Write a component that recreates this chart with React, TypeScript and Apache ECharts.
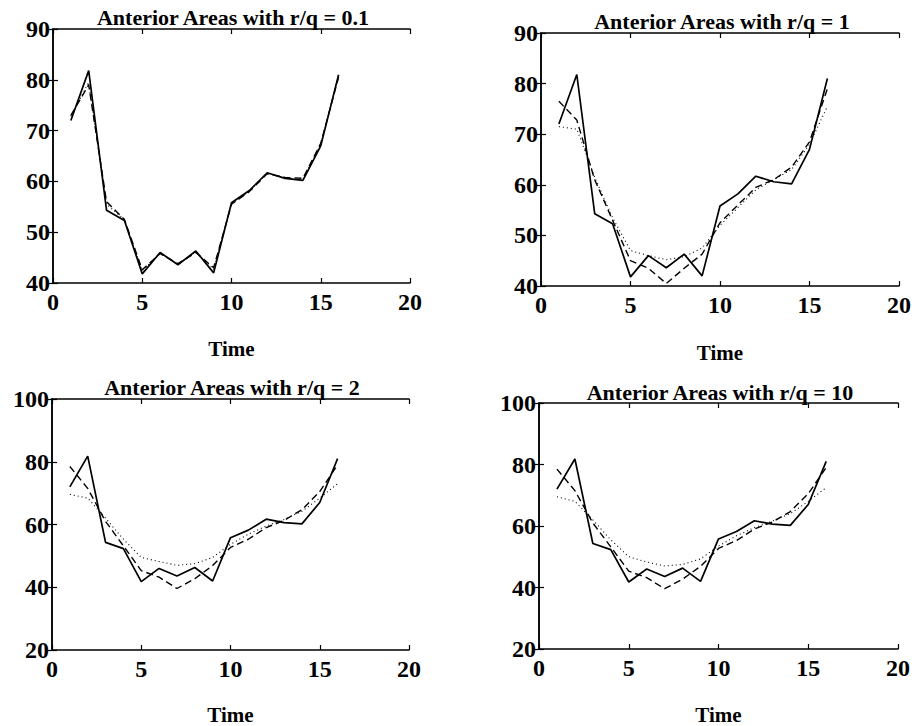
import React, { useEffect, useRef } from "react";
import * as echarts from "echarts";

const time = [1, 2, 3, 4, 5, 6, 7, 8, 9, 10, 11, 12, 13, 14, 15, 16];
const observed = [72, 81.8, 54.3, 52.3, 41.8, 46, 43.6, 46.3, 42, 55.8, 58.2, 61.7, 60.6, 60.2, 67, 81];

const titles = ["Anterior Areas with r/q = 0.1", "Anterior Areas with r/q = 1", "Anterior Areas with r/q = 2", "Anterior Areas with r/q = 10"];

const dashed01 = [73, 79, 56, 52.5, 42.6, 45.8, 43.8, 46, 43, 55.5, 58, 61.5, 60.8, 60.6, 67.5, 80.5];
const dotted01 = [72.8, 79.5, 55.5, 52.5, 42.4, 45.9, 43.7, 46.1, 42.7, 55.6, 58.1, 61.6, 60.7, 60.4, 67.3, 80.8];

const dashed1 = [76.5, 72.8, 61, 53, 45, 43.5, 40.5, 43.5, 46.3, 52.5, 56, 59.5, 61, 63.5, 68.5, 79];
const dotted1 = [71.5, 71, 61.5, 53.5, 47, 46, 45.2, 45.8, 47.5, 52, 55.5, 59, 61, 63, 68, 75.5];

const dashed2 = [78.5, 71.5, 61, 53.2, 45.3, 43.2, 39.6, 42.7, 46.9, 52.7, 55.3, 59, 61.3, 64.7, 70.5, 79];
const dotted2 = [69.6, 68.4, 62, 55.3, 49.5, 48.2, 47, 47.5, 49.5, 53.7, 56.9, 59.5, 61.6, 64.2, 68.4, 73];

const dashed10 = [78.5, 71.5, 61, 53.2, 45.3, 43.2, 39.6, 42.7, 46.9, 52.7, 55.3, 59, 61.3, 64.7, 70.5, 79];
const dotted10 = [69.5, 68, 62, 55.5, 50, 48.3, 47, 47.5, 49.3, 53.5, 56.8, 59.5, 61.6, 64, 68, 72.5];

const xTicks = { min: 0, max: 20, interval: 5 };
const yRangesTop = { min: 40, max: 90, interval: 10 };
const yRangesBottom = { min: 20, max: 100, interval: 20 };

const panelSeries = [
  [dashed01, dotted01],
  [dashed1, dotted1],
  [dashed2, dotted2],
  [dashed10, dotted10],
];

const grids = [
  { left: 53, top: 29, width: 357, height: 254 },
  { left: 541, top: 33, width: 359, height: 253 },
  { left: 52, top: 399, width: 357, height: 255 },
  { left: 539, top: 403, width: 359, height: 254 },
];
const titlePos = [
  { x: 233, top: 6 },
  { x: 722, top: 10 },
  { x: 232, top: 376 },
  { x: 720, top: 381 },
];
const nameGaps = [55, 56, 54, 55];

const FONT = "'Liberation Serif', 'Times New Roman', serif";

export default function App() {
  const ref = useRef<HTMLDivElement>(null);
  useEffect(() => {
    if (!ref.current) return;
    const chart = echarts.init(ref.current, undefined, { renderer: "svg" });
    const axisLine = { show: true, lineStyle: { color: "#000", width: 1.5 } };
    const axisTick = { show: true, inside: true, length: 5, lineStyle: { color: "#000", width: 1.2 } };
    const xAxes: any[] = [];
    const yAxes: any[] = [];
    grids.forEach((g, i) => {
      xAxes.push({
        type: "value",
        gridIndex: i,
        position: "bottom",
        ...xTicks,
        axisLine,
        axisTick,
        splitLine: { show: false },
        axisLabel: { color: "#000", fontFamily: FONT, fontSize: 24, fontWeight: "bold", margin: 7 },
        name: "Time",
        nameLocation: "middle",
        nameGap: nameGaps[i],
        nameTextStyle: { color: "#000", fontFamily: FONT, fontSize: 21, fontWeight: "bold" },
      });
    });
    grids.forEach((g, i) => {
      const yr = i < 2 ? yRangesTop : yRangesBottom;
      yAxes.push({
        type: "value",
        gridIndex: i,
        position: "left",
        ...yr,
        axisLine,
        axisTick,
        splitLine: { show: false },
        axisLabel: { color: "#000", fontFamily: FONT, fontSize: 24, fontWeight: "bold", margin: 3 },
      });
    });
    grids.forEach((g, i) => {
      xAxes.push({
        type: "value",
        gridIndex: i,
        position: "top",
        ...xTicks,
        axisLine,
        axisTick,
        splitLine: { show: false },
        axisLabel: { show: false },
      });
    });
    grids.forEach((g, i) => {
      const yr = i < 2 ? yRangesTop : yRangesBottom;
      yAxes.push({
        type: "value",
        gridIndex: i,
        position: "right",
        ...yr,
        axisLine,
        axisTick,
        splitLine: { show: false },
        axisLabel: { show: false },
      });
    });
    const series: any[] = [];
    grids.forEach((g, i) => {
      const [dsh, dot] = panelSeries[i];
      series.push({
        type: "line",
        xAxisIndex: i,
        yAxisIndex: i,
        symbol: "none",
        data: time.map((t, k) => [t, dot[k]]),
        lineStyle: { color: "#000", width: 1.1, type: [1, 3] },
      });
      series.push({
        type: "line",
        xAxisIndex: i,
        yAxisIndex: i,
        symbol: "none",
        data: time.map((t, k) => [t, dsh[k]]),
        lineStyle: { color: "#000", width: 1.4, type: [7, 4] },
      });
      series.push({
        type: "line",
        xAxisIndex: i,
        yAxisIndex: i,
        symbol: "none",
        data: time.map((t, k) => [t, observed[k]]),
        lineStyle: { color: "#000", width: 1.7, type: "solid" },
      });
    });
    chart.setOption({
      animation: false,
      backgroundColor: "#fff",
      title: titles.map((t, i) => ({
        text: t,
        left: titlePos[i].x,
        top: titlePos[i].top,
        textAlign: "center",
        padding: 0,
        textStyle: { color: "#000", fontFamily: FONT, fontSize: 22, fontWeight: "bold" },
      })),
      grid: grids.map((g) => ({ ...g, containLabel: false })),
      xAxis: xAxes,
      yAxis: yAxes,
      series,
    });
    return () => chart.dispose();
  }, []);
  return (
    <div
      ref={ref}
      style={{ position: "absolute", left: 0, top: 0, width: 914, height: 726, background: "#fff" }}
    />
  );
}
